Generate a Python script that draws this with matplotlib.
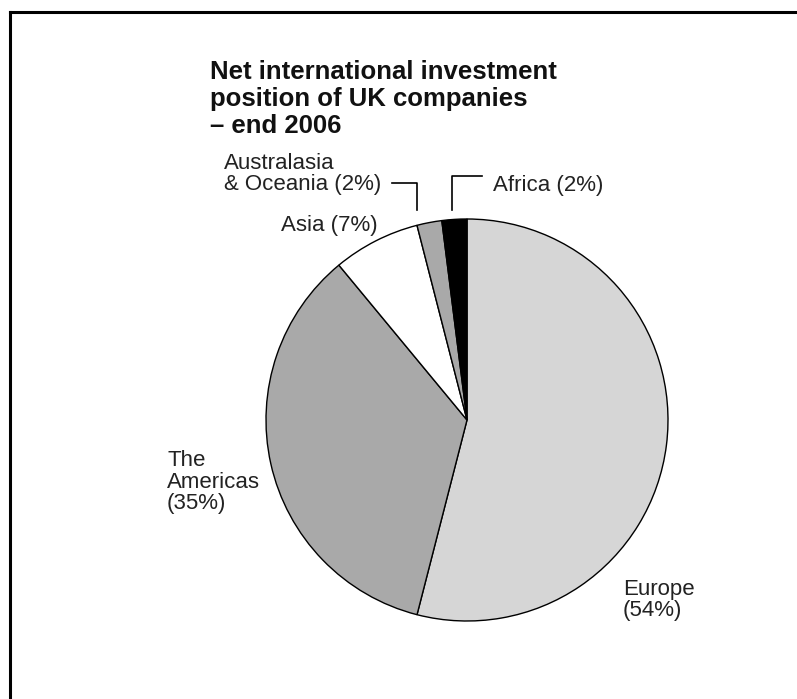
import matplotlib.pyplot as plt
from matplotlib.lines import Line2D

plt.rcParams['font.family'] = ['Liberation Sans', 'DejaVu Sans']

# Regions, clockwise from 12 o'clock
regions = ['Europe', 'The Americas', 'Asia', 'Australasia & Oceania', 'Africa']
shares = [54, 35, 7, 2, 2]
colours = ['#d6d6d6', '#a9a9a9', '#ffffff', '#a9a9a9', '#000000']

W, H = 797, 699
fig = plt.figure(figsize=(W / 100, H / 100), dpi=100)

def fx(x):
    return x / W

def fy(y):
    return 1 - y / H

# pie axes: centre (467, 420) px, radius 201 px
cx, cy, r = 467, 420, 201
ax = fig.add_axes([fx(cx - r), fy(cy + r), 2 * r / W, 2 * r / H])
ax.pie(shares, colors=colours, startangle=90, counterclock=False,
       wedgeprops=dict(edgecolor='black', linewidth=1.0))
ax.set_xlim(-1, 1)
ax.set_ylim(-1, 1)
ax.axis('off')

# frame (top and left edge)
fig.add_artist(Line2D([fx(10), fx(797)], [fy(12), fy(12)], color='black', lw=2.2))
fig.add_artist(Line2D([fx(10), fx(10)], [fy(12), fy(699)], color='black', lw=2.2))

# title
fig.text(fx(210), fy(99), "Net international investment\nposition of UK companies\n\u2013 end 2006",
         fontsize=18.5, fontweight='bold', ha='left', va='center', linespacing=1.15,
         color='#111111')

lab = dict(fontsize=16, color='#222222', linespacing=1.0)

fig.text(fx(224), fy(174), "Australasia\n& Oceania (2%)", ha='left', va='center', **lab)
fig.text(fx(281), fy(225), "Asia (7%)", ha='left', va='center', **lab)
fig.text(fx(493), fy(186), "Africa (2%)", ha='left', va='center', **lab)
fig.text(fx(167), fy(482), "The\nAmericas\n(35%)", ha='left', va='center', **lab)
fig.text(fx(623), fy(600), "Europe\n(54%)", ha='left', va='center', **lab)

# leader lines
fig.add_artist(Line2D([fx(392), fx(417), fx(417)], [fy(183), fy(183), fy(210)],
                      color='black', lw=1.2))
fig.add_artist(Line2D([fx(452), fx(452), fx(482)], [fy(210), fy(176), fy(176)],
                      color='black', lw=1.2))

fig.savefig('out.png', dpi=100, facecolor='white')
